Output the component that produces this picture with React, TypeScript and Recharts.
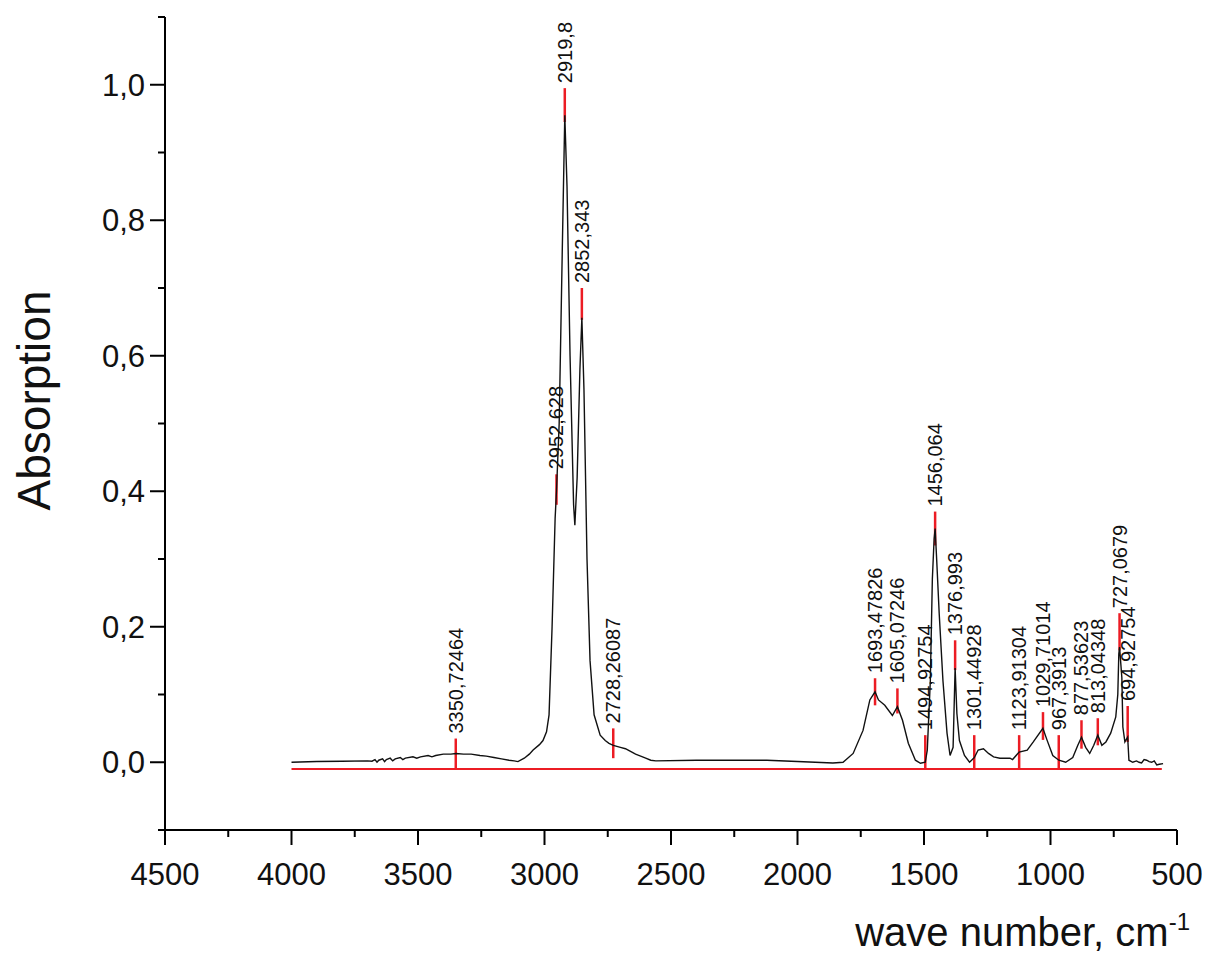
import React from 'react';
import { ComposedChart, Line, Scatter, XAxis, YAxis, Label } from 'recharts';

// IR spectrum: [wave number, absorption]
const spectrum: [number, number][] = [
  [4000, 0.0], [3900, 0.001], [3800, 0.0015], [3700, 0.002], [3682, 0.0015],
  [3670, 0.004], [3662, 0.0], [3655, 0.003], [3640, 0.005], [3632, 0.001], [3625, 0.004],
  [3610, 0.006], [3600, 0.002], [3590, 0.005], [3570, 0.007], [3560, 0.004], [3550, 0.006],
  [3520, 0.008], [3505, 0.006], [3490, 0.008], [3460, 0.01], [3445, 0.008], [3430, 0.01],
  [3400, 0.012], [3370, 0.012], [3350, 0.013], [3320, 0.012], [3290, 0.012],
  [3255, 0.01], [3230, 0.009], [3200, 0.007], [3170, 0.005], [3140, 0.003],
  [3120, 0.002], [3105, 0.001], [3080, 0.006], [3060, 0.012], [3045, 0.018],
  [3020, 0.026], [3006, 0.032], [2992, 0.045], [2982, 0.07], [2970, 0.2],
  [2958, 0.36], [2952.6, 0.4], [2942, 0.5], [2930, 0.75], [2919.8, 0.955],
  [2911, 0.85], [2899, 0.6], [2885, 0.38], [2880, 0.35], [2871, 0.42],
  [2860, 0.58], [2852.3, 0.656], [2844, 0.55], [2832, 0.3], [2820, 0.15],
  [2804, 0.07], [2780, 0.04], [2760, 0.032], [2745, 0.028], [2728, 0.025],
  [2700, 0.022], [2680, 0.02], [2660, 0.016], [2640, 0.012], [2620, 0.009],
  [2600, 0.006], [2580, 0.003], [2560, 0.002], [2400, 0.003], [2121, 0.003],
  [2000, 0.001], [1860, -0.001], [1820, 0.0], [1780, 0.013], [1741, 0.047],
  [1714, 0.092], [1693.5, 0.104], [1680, 0.092], [1655, 0.084], [1625, 0.069],
  [1605, 0.082], [1585, 0.062], [1562, 0.028], [1534, 0.003], [1514, -0.0015],
  [1495, 0.0], [1487, 0.018], [1475, 0.12], [1467, 0.27], [1460, 0.33],
  [1456, 0.345], [1450, 0.3], [1440, 0.22], [1425, 0.12], [1409, 0.043],
  [1397, 0.01], [1385, 0.022], [1377, 0.139], [1370, 0.072], [1360, 0.032],
  [1340, 0.01], [1320, 0.0], [1301, 0.007], [1286, 0.018], [1265, 0.02],
  [1245, 0.013], [1225, 0.008], [1200, 0.006], [1160, 0.006], [1150, 0.004],
  [1124, 0.015], [1092, 0.018], [1068, 0.03], [1030, 0.05], [1014, 0.033],
  [991, 0.01], [967, 0.003], [940, 0.0], [912, 0.007], [892, 0.025],
  [877.5, 0.037], [861, 0.022], [845, 0.013], [829, 0.025], [813, 0.04],
  [797, 0.025], [781, 0.03], [762, 0.043], [742, 0.067], [734, 0.1],
  [730, 0.16], [727, 0.17], [718, 0.125], [714, 0.052], [706, 0.03],
  [695, 0.037], [690, 0.003], [675, 0.0], [660, 0.002], [650, 0.0],
  [640, -0.001], [630, 0.004], [620, 0.003], [610, 0.001], [600, 0.0],
  [590, 0.002], [580, -0.004], [570, -0.003], [555, -0.002],
];

// peak labels and the ends of their red marks
const peakLabels = [
  '3350,72464', '2952,628', '2919,8', '2852,343', '2728,26087', '1693,47826',
  '1605,07246', '1494,92754', '1456,064', '1376,993', '1301,44928', '1123,91304',
  '1029,71014', '967,3913', '877,53623', '813,04348', '727,0679', '694,92754',
];
const peakWave = [
  3350.72, 2952.63, 2919.8, 2852.34, 2728.26, 1693.48, 1605.07, 1494.93, 1456.06,
  1376.99, 1301.45, 1123.91, 1029.71, 967.39, 877.54, 813.04, 727.07, 694.93,
];
const markLow = [
  -0.01, 0.38, 0.945, 0.653, 0.006, 0.084, 0.072, -0.01, 0.32,
  0.136, -0.01, -0.01, 0.033, -0.01, 0.02, 0.025, 0.165, 0.03,
];
const markHigh = [
  0.035, 0.425, 0.995, 0.7, 0.05, 0.124, 0.109, 0.04, 0.37,
  0.18, 0.04, 0.04, 0.074, 0.04, 0.062, 0.065, 0.22, 0.083,
];

const baseline = { from: 4000, to: 560, value: -0.01 };

const xTicks = [4500, 4250, 4000, 3750, 3500, 3250, 3000, 2750, 2500, 2250, 2000, 1750, 1500, 1250, 1000, 750, 500];
const yTicks = [-0.1, 0, 0.1, 0.2, 0.3, 0.4, 0.5, 0.6, 0.7, 0.8, 0.9, 1.0, 1.1];

const RED = '#ec1c24';
const FONT = '"Liberation Sans", Arial, sans-serif';

const spectrumData = spectrum.map(([w, v]) => ({ w, v }));
const baselineData = [
  { w: baseline.from, v: baseline.value },
  { w: baseline.to, v: baseline.value },
];
const peaks = peakWave.map((w, i) => ({ w, v: markHigh[i], label: peakLabels[i] }));

const XTick = (props: any) => {
  const { x, y, payload } = props;
  const major = payload.value % 500 === 0;
  return (
    <g>
      <line x1={x} y1={y} x2={x} y2={y + (major ? 15 : 7)} stroke="#000" strokeWidth={2} />
      {major && (
        <text x={x} y={y + 55} textAnchor="middle" fontSize={31} fontFamily={FONT} fill="#111">
          {payload.value}
        </text>
      )}
    </g>
  );
};

const YTick = (props: any) => {
  const { x, y, payload } = props;
  const major = Math.round(payload.value * 10) % 2 === 0;
  return (
    <g>
      <line x1={x} y1={y} x2={x - (major ? 15 : 7)} y2={y} stroke="#000" strokeWidth={2} />
      {major && (
        <text x={x - 20} y={y + 11} textAnchor="end" fontSize={31} fontFamily={FONT} fill="#111">
          {payload.value.toFixed(1).replace('.', ',')}
        </text>
      )}
    </g>
  );
};

const PeakLabel = (props: any) => {
  const { cx, cy, payload } = props;
  return (
    <text
      transform={`translate(${cx + 7},${cy - 5}) rotate(-90)`}
      fontSize={20}
      fontFamily={FONT}
      fill="#111"
    >
      {payload.label}
    </text>
  );
};

export default function App() {
  return (
    <ComposedChart width={1202} height={946} margin={{ top: 9, right: 33, bottom: 64, left: 57 }}>
      <XAxis
        type="number"
        dataKey="w"
        domain={[500, 4500]}
        reversed
        allowDataOverflow
        ticks={xTicks}
        interval={0}
        tickSize={0}
        tickMargin={0}
        tickLine={false}
        tick={<XTick />}
        height={60}
        axisLine={{ stroke: '#000', strokeWidth: 2 }}
      >
        <Label
          content={(p: any) => {
            const vb = p.viewBox;
            return (
              <text x={vb.x + vb.width + 13} y={vb.y + 116} textAnchor="end" fontSize={40} fontFamily={FONT} fill="#111">
                wave number, cm
                <tspan dy={-16} fontSize={24}>-1</tspan>
              </text>
            );
          }}
        />
      </XAxis>
      <YAxis
        type="number"
        dataKey="v"
        domain={[-0.1, 1.1]}
        allowDataOverflow
        ticks={yTicks}
        interval={0}
        tickSize={0}
        tickMargin={0}
        tickLine={false}
        tick={<YTick />}
        width={100}
        axisLine={{ stroke: '#000', strokeWidth: 2 }}
      >
        <Label
          content={(p: any) => {
            const vb = p.viewBox;
            const cx = vb.x - 27;
            const cy = vb.y + vb.height / 2 - 23;
            return (
              <text
                transform={`translate(${cx},${cy}) rotate(-90)`}
                textAnchor="middle"
                dominantBaseline="middle"
                fontSize={46}
                fontFamily={FONT}
                fill="#111"
              >
                Absorption
              </text>
            );
          }}
        />
      </YAxis>
      <Line data={baselineData} dataKey="v" stroke={RED} strokeWidth={2} dot={false} isAnimationActive={false} />
      {peakWave.map((w, i) => (
        <Line
          key={`mark-${i}`}
          data={[{ w, v: markLow[i] }, { w, v: markHigh[i] }]}
          dataKey="v"
          stroke={RED}
          strokeWidth={2.5}
          dot={false}
          isAnimationActive={false}
        />
      ))}
      <Line data={spectrumData} dataKey="v" type="linear" stroke="#111" strokeWidth={1.4} dot={false} isAnimationActive={false} />
      <Scatter data={peaks} dataKey="v" shape={<PeakLabel />} isAnimationActive={false} />
    </ComposedChart>
  );
}
